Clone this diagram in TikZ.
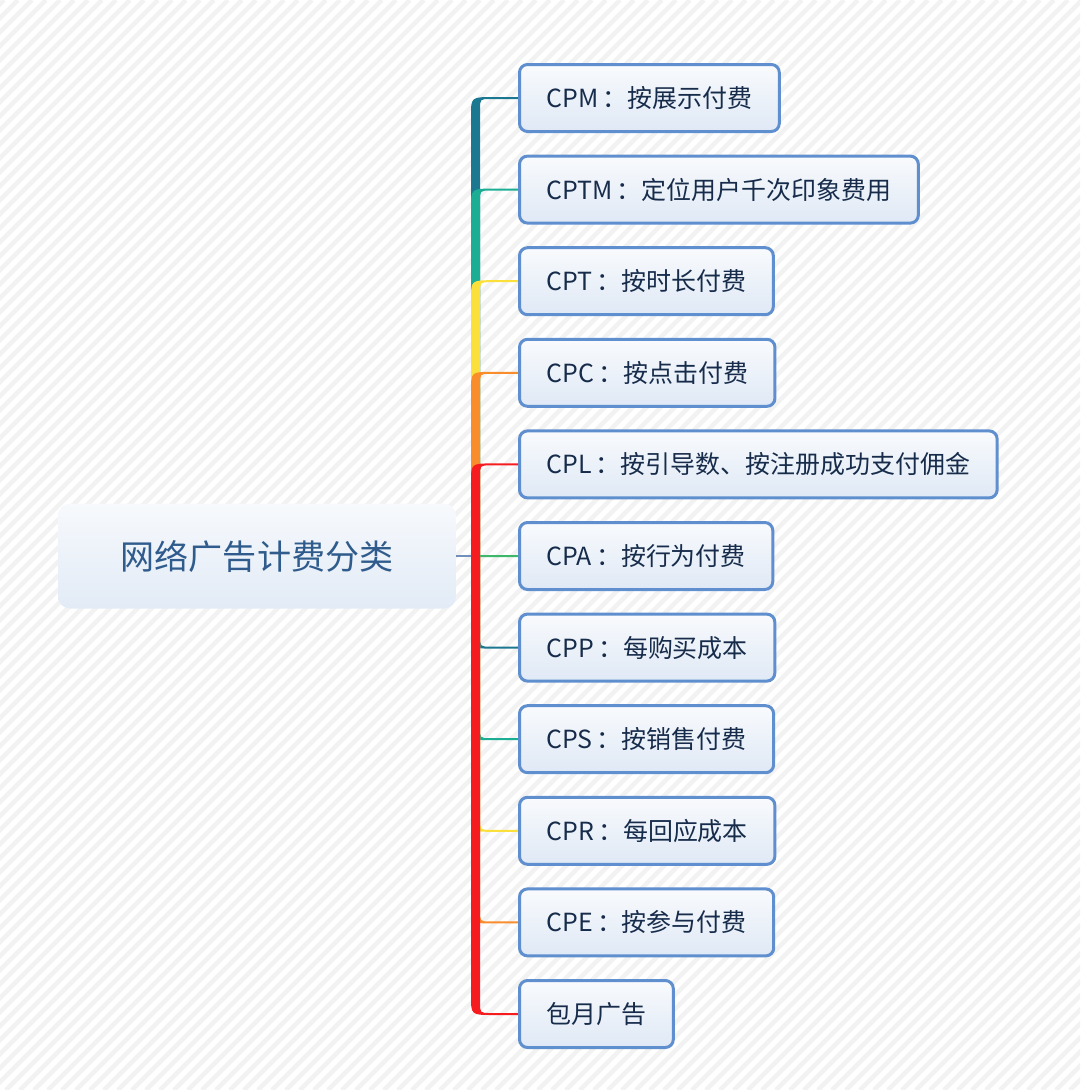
\documentclass[tikz,border=0pt]{standalone}
\usepackage{fontspec}
\setmainfont{Noto Sans CJK SC}
\usetikzlibrary{calc,backgrounds}
\definecolor{mmdark}{HTML}{1B7890}
\definecolor{mmteal}{HTML}{1CAE95}
\definecolor{mmyellow}{HTML}{FBDF3A}
\definecolor{mmorange}{HTML}{F98C2B}
\definecolor{mmred}{HTML}{F61B1F}
\definecolor{mmgreen}{HTML}{3DB86A}
\definecolor{mmborder}{HTML}{5F8FCE}
\definecolor{mmtext}{HTML}{172C4B}
\definecolor{mmroot}{HTML}{2F5C8C}
\definecolor{mmlink}{HTML}{7390BC}
\definecolor{mmstripe}{HTML}{F2F2F2}

\begin{document}
\begin{tikzpicture}[
  x=0.02cm, y=-0.02cm,
  leaf/.style={draw=mmborder, line width=0.06cm, rounded corners=0.16cm,
    top color=white!96!mmborder, bottom color=white!80!mmborder,
    minimum height=1.34cm, inner xsep=0.54cm, anchor=west, text=mmtext,
    font=\fontsize{14.2pt}{17pt}\selectfont},
  rootbox/.style={rounded corners=0.24cm, top color=white!95!mmborder,
    bottom color=white!82!mmborder, minimum width=7.96cm, minimum height=2.1cm,
    text=mmroot, font=\fontsize{19.4pt}{23pt}\selectfont}
]
  \useasboundingbox (0,0) rectangle (1080,1090);

  % central topic and branches
  \node[rootbox] (root) at (257,556) {网络广告计费分类};
  \coordinate (bus) at (475.5,556);

  \foreach \txt [count=\i] in {CPM\,：按展示付费, CPTM\,：定位用户千次印象费用,
      CPT\,：按时长付费, CPC\,：按点击付费, CPL\,：按引导数、按注册成功支付佣金,
      CPA\,：按行为付费, CPP\,：每购买成本, CPS\,：按销售付费, CPR\,：每回应成本,
      CPE\,：按参与付费, 包月广告}{
    \pgfmathsetmacro\cy{98+91.6*(\i-1)}
    \node[leaf] (c\i) at (518,\cy) {\txt};
  }

  \begin{scope}[on background layer]
    % striped paper
    \begin{scope}
      \clip (0,0) rectangle (1080,1090);
      \foreach \s in {-1100,-1086,...,1080}
        \draw[mmstripe, line width=0.09cm] (\s,1090) -- ++(1090,-1090);
    \end{scope}
    \draw[mmlink, line width=0.035cm] (root.east) -- (bus);
    % tapered connectors, one colour per branch
    \foreach \col [count=\i] in {mmdark, mmteal, mmyellow, mmorange, mmred,
        mmgreen, mmdark, mmteal, mmyellow, mmorange, mmred}{
      \pgfmathsetmacro\cy{98+91.6*(\i-1)}
      \ifnum\i=6
        \draw[\col, line width=0.04cm] (bus) ++(4.5,0) -- (c\i.west);
      \else
        \pgfmathsetmacro\d{ifthenelse(\i<6,1,-1)}
        \pgfmathsetmacro\ya{\cy+\d*18}
        \pgfmathsetmacro\yb{\cy-\d}
        \pgfmathsetmacro\yc{\cy+\d}
        \pgfmathsetmacro\yd{\cy+\d*12}
        \pgfmathsetmacro\hw{\d}
        \fill[\col] (bus) ++(-4.5,0) -- (471,\ya)
          .. controls (471,\yb) .. (494,\yb)
          -- ($(c\i.west)+(0,-\hw)$) -- ($(c\i.west)+(0,\hw)$)
          -- (490,\yc) .. controls (480,\yc) .. (480,\yd)
          -- (480,556) -- cycle;
      \fi
    }
  \end{scope}
\end{tikzpicture}
\end{document}
